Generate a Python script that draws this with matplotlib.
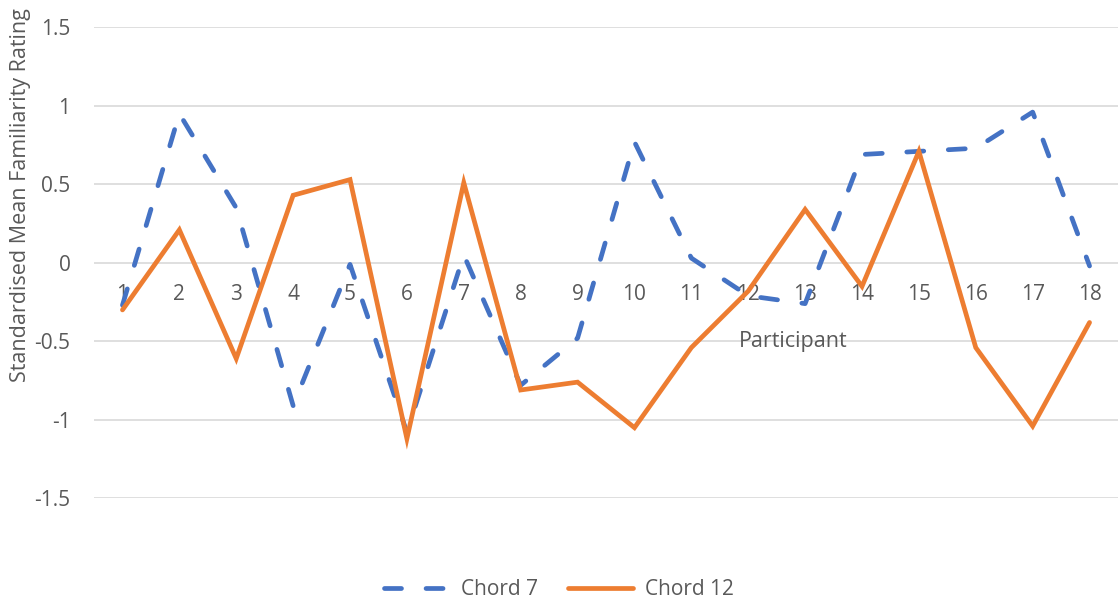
import matplotlib
matplotlib.use('Agg')
import matplotlib.pyplot as plt

plt.rcParams['font.family'] = ['Open Sans', 'DejaVu Sans']

# standardised familiarity ratings per participant
participants = list(range(1, 19))
chord7 = [-0.27, 0.95, 0.35, -0.91, -0.01, -1.08, 0.05, -0.78, -0.48,
          0.77, 0.03, -0.21, -0.26, 0.69, 0.71, 0.73, 0.96, -0.02]
chord12 = [-0.30, 0.21, -0.61, 0.43, 0.53, -1.12, 0.51, -0.81, -0.76,
           -1.05, -0.54, -0.18, 0.34, -0.15, 0.71, -0.54, -1.04, -0.38]
yticks = [-1.5, -1, -0.5, 0, 0.5, 1, 1.5]

blue = "#4472C4"
orange = "#ED7D31"
text_color = "#595959"
fs = 15

fig = plt.figure(figsize=(11.18, 6.03), dpi=100)
ax = fig.add_axes([0.0841, 0.1736, 0.9159, 0.7811])

ax.plot(participants, chord7, color=blue, lw=3.4, dashes=(3.6, 5.2),
        dash_capstyle='round', solid_capstyle='round', label="Chord 7")
ax.plot(participants, chord12, color=orange, lw=3.4,
        solid_joinstyle='miter', solid_capstyle='round', label="Chord 12")

ax.set_xlim(0.5, 18.5)
ax.set_ylim(-1.5, 1.5)
ax.set_yticks(yticks)
ax.set_yticklabels([f"{v:g}" for v in yticks])
ax.grid(axis='y', color="#D9D9D9", lw=1.2)
ax.set_axisbelow(True)

# category labels sit just under the zero line
ax.spines['bottom'].set_position(('data', 0))
for s in ax.spines.values():
    s.set_visible(False)
ax.set_xticks(participants)
ax.set_xticklabels([str(p) for p in participants])
ax.tick_params(axis='x', length=0, pad=15.5, labelsize=fs, labelcolor=text_color)
ax.tick_params(axis='y', length=0, pad=17, labelsize=fs, labelcolor=text_color)

ax.text(0.683, 0.333, "Participant", transform=ax.transAxes, ha='center',
        va='center', fontsize=fs + 0.5, color=text_color)
fig.text(0.018, 0.677, "Standardised Mean Familiarity Rating", rotation=90,
         ha='center', va='center', fontsize=fs + 0.5, color=text_color)

leg = fig.legend(loc='center', bbox_to_anchor=(0.5, 0.022), ncol=2,
                 frameon=False, fontsize=fs, handlelength=3.1,
                 columnspacing=1.45, handletextpad=0.6)
for t in leg.get_texts():
    t.set_color(text_color)

fig.savefig("out.png", dpi=100)
